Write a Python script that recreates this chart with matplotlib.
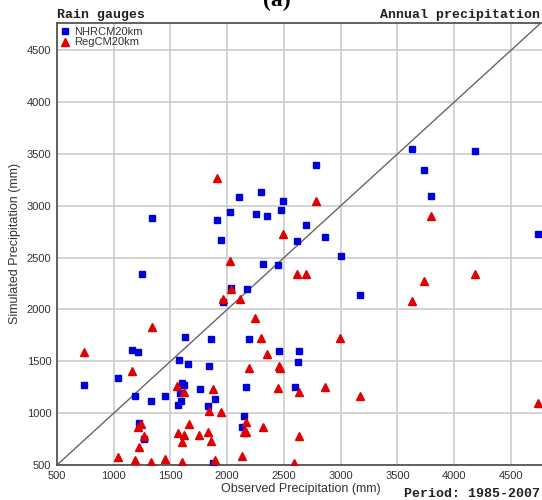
import matplotlib
matplotlib.use('Agg')
import matplotlib.pyplot as plt

# NHRCM20km (blue squares)
nhrcm_obs = [735, 1035, 1158, 1210, 1190, 1225, 1265, 1253, 1338, 1329,
             1455, 1573, 1626, 1650, 1600, 1615, 1582, 1757, 1594, 1565,
             1830, 1838, 1890, 1878, 1855, 1907, 1941, 2022, 2108, 2029,
             1960, 2170, 2192, 2168, 2150, 2126, 2251, 2298, 2318, 2348,
             2445, 2458, 2471, 2494, 2594, 2625, 2635, 2617, 2697, 2780,
             2862, 3000, 3170, 3624, 3735, 3797, 4184, 4740]
nhrcm_sim = [1269, 1335, 1606, 1590, 1170, 905, 752, 2345, 2885, 1115,
             1165, 1516, 1735, 1471, 1292, 1276, 1197, 1232, 1116, 1080,
             1065, 1452, 1132, 519, 1712, 2867, 2667, 2940, 3085, 2206,
             2071, 2194, 1714, 1250, 977, 866, 2919, 3129, 2442, 2903,
             2432, 1597, 2964, 3048, 1252, 1494, 1597, 2658, 2814, 3398,
             2700, 2518, 2142, 3548, 3348, 3097, 3529, 2732]

# RegCM20km (red triangles)
regcm_obs = [735, 1158, 1338, 1244, 1215, 1268, 1221, 1040, 1190, 1325,
             1450, 1600, 1568, 1621, 1598, 1665, 1752, 1828, 1855, 1892,
             2128, 2592, 1559, 1621, 1872, 2188, 2455, 2468, 2447, 2630,
             1840, 1942, 2165, 2146, 2168, 2316, 2632, 2297, 2347, 2248,
             2116, 1960, 2029, 2023, 2619, 2692, 2488, 2783, 1906, 2997,
             2859, 3170, 3624, 3735, 3797, 4184, 4740]
regcm_sim = [1590, 1407, 1830, 900, 865, 780, 674, 580, 545, 528,
             560, 528, 806, 790, 718, 895, 788, 818, 730, 548,
             584, 515, 1261, 1203, 1234, 1435, 1455, 1432, 1246, 1203,
             1024, 1008, 916, 823, 814, 869, 782, 1726, 1574, 1919,
             2097, 2097, 2197, 2465, 2346, 2345, 2732, 3045, 3272, 1722,
             1255, 1168, 2077, 2271, 2897, 2339, 1097]

ticks = [500, 1000, 1500, 2000, 2500, 3000, 3500, 4000, 4500]

fig = plt.figure(figsize=(5.42, 5.0), dpi=100)
W, H = 542, 500
ax = fig.add_axes([57 / W, 35 / H, (545 - 57) / W, (465 - 23) / H])

ax.set_xlim(500, 4800)
ax.set_ylim(500, 4763)
ax.set_xticks(ticks)
ax.set_yticks(ticks)
ax.tick_params(length=0, labelsize=8, labelcolor='#333333', pad=4)
for lab in ax.get_xticklabels() + ax.get_yticklabels():
    lab.set_family('Liberation Sans')
ax.grid(True, color='#cccccc', linewidth=1.2)
ax.set_axisbelow(True)
for side in ['left', 'top', 'bottom']:
    ax.spines[side].set_color('#555555')
    ax.spines[side].set_linewidth(1.3)
ax.spines['right'].set_visible(False)

# 1:1 line
ax.plot([500, 4800], [500, 4800], color='#666666', linewidth=1.0, zorder=2)

ax.plot(nhrcm_obs, nhrcm_sim, linestyle='none', marker='s', markersize=4.3,
        color='#0000dd', markeredgecolor='#0000dd', label='NHRCM20km', zorder=3)
ax.plot(regcm_obs, regcm_sim, linestyle='none', marker='^', markersize=5.5,
        color='#e00000', markeredgecolor='#e00000', label='RegCM20km', zorder=3)

leg = ax.legend(loc='upper left', frameon=False, borderaxespad=0.15,
                handlelength=0.8, handletextpad=0.4, labelspacing=0.05,
                borderpad=0.2, prop={'family': 'Liberation Sans', 'size': 8})
for t in leg.get_texts():
    t.set_color('#333333')

fig.text(301 / W, 1 - 489 / H, 'Observed Precipitation (mm)', ha='center', va='center',
         fontsize=9, family='Liberation Sans', color='#333333')
fig.text(15 / W, 1 - 244 / H, 'Simulated Precipitation (mm)', ha='center', va='center',
         rotation=90, fontsize=9, family='Liberation Sans', color='#333333')

mono = dict(family='Liberation Mono', fontweight='bold', fontsize=9.5, color='#222222')
fig.text(57 / W, 1 - 15 / H, 'Rain gauges', ha='left', va='center', **mono)
fig.text(540 / W, 1 - 15 / H, 'Annual precipitation', ha='right', va='center', **mono)
fig.text(540 / W, 1 - 494 / H, 'Period: 1985-2007', ha='right', va='center', **mono)
fig.text(277 / W, 1.0, '(a)', ha='center', va='center', fontsize=17,
         fontweight='bold', family='Liberation Serif', color='black')

fig.savefig('out.png', dpi=100)
